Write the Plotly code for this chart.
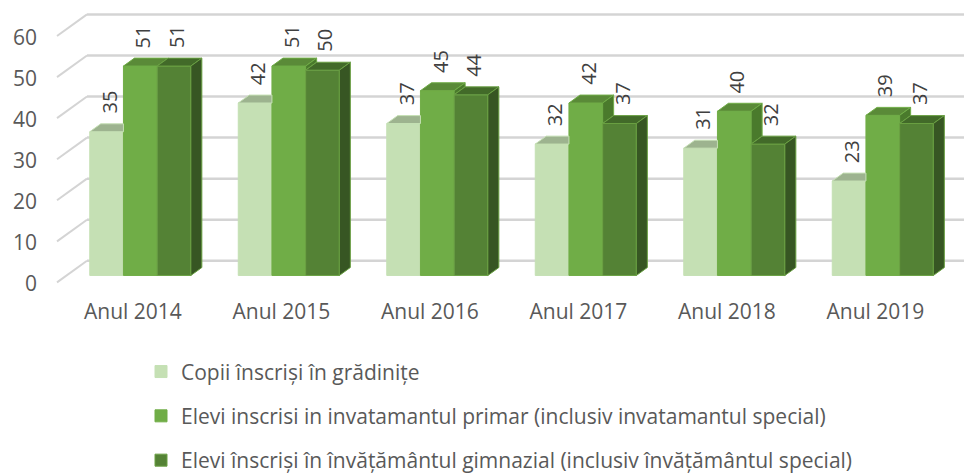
import plotly.graph_objects as go

categories = ["Anul 2014", "Anul 2015", "Anul 2016", "Anul 2017", "Anul 2018", "Anul 2019"]
series_names = [
    "Copii înscriși în grădinițe",
    "Elevi inscrisi in invatamantul primar (inclusiv invatamantul special)",
    "Elevi înscriși în învățământul gimnazial (inclusiv învățământul special)",
]
gradinite = [35, 42, 37, 32, 31, 23]
primar = [51, 51, 45, 42, 40, 39]
gimnazial = [51, 50, 44, 37, 32, 37]
ticks = [0, 10, 20, 30, 40, 50, 60]

series = [gradinite, primar, gimnazial]
front = ["#C5E0B4", "#70AD47", "#548235"]
top = ["#9DB38F", "#5A8A38", "#426A29"]
side = ["#9DB38F", "#4A7A2C", "#375623"]
edge = ["#C5E0B4", "#70AD47", "#6AA043"]

PX_X, PX_Y = 148.5, 4.137
W = 33.7 / PX_X
DX, DY = 11 / PX_X, 8 / PX_Y
WALL_FX, WALL_BX = (57 - 140.3) / PX_X, (87 - 140.3) / PX_X
WALL_FY, WALL_BY = -7 / PX_Y, 14.8 / PX_Y
HEIGHT = 540
L, R, T, B = 40, 964, 5, 295
x_range = [(L - 140.3) / PX_X, (R - 140.3) / PX_X]
y_range = [(277.5 - B) / PX_Y, (277.5 - T) / PX_Y]
xs = list(range(len(categories)))

fig = go.Figure()
annotations = []
n = len(series)
for s, vals in enumerate(series):
    fig.add_trace(go.Bar(x=xs, y=vals, name=series_names[s], width=W, offset=(s - n / 2) * W,
                         marker=dict(color=front[s], line=dict(color=edge[s], width=1)),
                         legendgroup=str(s), hoverinfo="y"))

for s, vals in enumerate(series):
    tx, ty, sx, sy = [], [], [], []
    for i, v in enumerate(vals):
        x0 = i + (s - n / 2) * W
        x1 = x0 + W
        nxt = series[s + 1][i] if s + 1 < n else 0
        clipped = nxt >= v + DY
        if clipped:
            tx += [x0, x1, x1, x0 + DX, x0, None]
        else:
            tx += [x0, x1, x1 + DX, x0 + DX, x0, None]
        ty += [v, v, v + DY, v + DY, v, None]
        if nxt < v:
            sx += [x1, x1 + DX, x1 + DX, x1, x1, None]
            sy += [v, v + DY, nxt + DY, nxt, v, None]
        annotations.append(dict(x=x0 + W / 2 + DX / 2, y=v + DY, text=str(v), textangle=-90,
                                showarrow=False, xanchor="center", yanchor="bottom", yshift=8, xshift=-3,
                                font=dict(size=20, color="#404040")))
    for fx, fy, col in ((tx, ty, top[s]), (sx, sy, side[s])):
        if fx:
            fig.add_trace(go.Scatter(x=fx, y=fy, mode="lines", fill="toself", fillcolor=col,
                                     line=dict(color=edge[s], width=1), showlegend=False,
                                     hoverinfo="skip"))

shapes = []
for t in ticks:
    shapes.append(dict(type="line", layer="below", xref="x", yref="y",
                       x0=WALL_FX, y0=t + WALL_FY, x1=WALL_BX, y1=t + WALL_BY,
                       line=dict(color="#D4D4D4", width=2)))
    shapes.append(dict(type="line", layer="below", xref="x", yref="y",
                       x0=WALL_BX, y0=t + WALL_BY, x1=x_range[1], y1=t + WALL_BY,
                       line=dict(color="#D4D4D4", width=2.5)))

area_h = HEIGHT - T
fig.update_layout(
    width=964, height=HEIGHT, autosize=False,
    margin=dict(l=L, r=0, t=T, b=0, pad=0),
    paper_bgcolor="white", plot_bgcolor="white",
    font=dict(family="Open Sans, Noto Sans, sans-serif", color="#595959", size=21),
    barmode="overlay",
    shapes=shapes, annotations=annotations,
    xaxis=dict(range=x_range, tickmode="array", tickvals=[i - 0.05 for i in xs], ticktext=categories,
               showgrid=False, zeroline=False, showline=False, ticks="", tickfont=dict(size=21),
               ticklabelstandoff=4, fixedrange=True),
    yaxis=dict(range=y_range, domain=[(HEIGHT - B) / area_h, 1], tickmode="array",
               tickvals=[t + WALL_FY - 0.4 for t in ticks], ticktext=[str(t) for t in ticks],
               showgrid=False, zeroline=False, showline=False, ticks="", tickfont=dict(size=21),
               ticklabelstandoff=2, fixedrange=True),
    legend=dict(orientation="v", x=(141 - L) / (R - L), xanchor="left", y=(HEIGHT - 354) / area_h, yanchor="top",
                tracegroupgap=14, font=dict(size=21, color="#595959"),
                traceorder="grouped", bgcolor="rgba(0,0,0,0)"),
)
fig.write_html("out.html", config={"displayModeBar": False},
               post_script="document.body.style.margin='0';document.documentElement.style.overflow='hidden';")
